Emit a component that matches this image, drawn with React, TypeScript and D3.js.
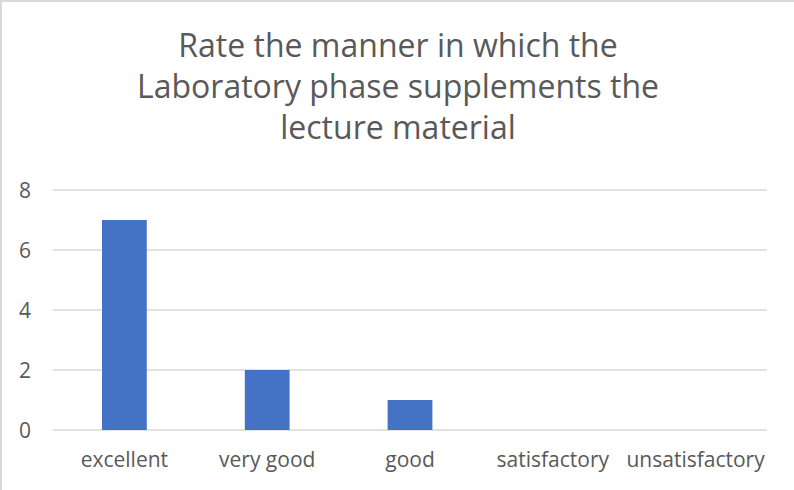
import React from 'react';
import * as d3 from 'd3';

const categories = ['excellent', 'very good', 'good', 'satisfactory', 'unsatisfactory'];
const counts = [7, 2, 1, 0, 0];
const yTicks = [0, 2, 4, 6, 8];
const titleLines = [
	'Rate the manner in which the',
	'Laboratory phase supplements the',
	'lecture material',
];

const App = () => {
	const svgWidth = 794;
	const svgHeight = 490;
	const plot = { left: 53, right: 767, top: 190, bottom: 430 };
	const font = "'Open Sans', 'Noto Sans', sans-serif";
	const textColor = '#595959';

	const xScale = d3
		.scaleBand()
		.domain(categories)
		.range([plot.left, plot.right])
		.paddingInner(0)
		.paddingOuter(0);
	const yScale = d3.scaleLinear().domain([0, 8]).range([plot.bottom, plot.top]);

	// excel gap width ~219%
	const barWidth = xScale.bandwidth() / 3.19;

	return (
		<svg
			width={svgWidth}
			height={svgHeight}
			style={{ position: 'absolute', left: 0, top: 0 }}
			fontFamily={font}
		>
			<rect x={0} y={0} width={svgWidth} height={svgHeight} fill='white' />
			{/* chart border, only top and left show */}
			<rect x={1} y={1} width={svgWidth + 10} height={svgHeight + 10} fill='none' stroke='#d9d9d9' strokeWidth={2} />

			{/* title */}
			<text textAnchor='middle' fill={textColor} fontSize={32}>
				{titleLines.map((line, i) => (
					<tspan key={line} x={svgWidth / 2 + 1} y={57 + i * 41}>
						{line}
					</tspan>
				))}
			</text>

			{/* gridlines */}
			{yTicks.map((v) => (
				<line
					key={'grid' + v}
					x1={plot.left}
					x2={plot.right}
					y1={yScale(v)}
					y2={yScale(v)}
					stroke='#d9d9d9'
					strokeWidth={1.5}
				/>
			))}

			{/* y labels */}
			{yTicks.map((v) => (
				<text
					key={'ylab' + v}
					x={31}
					y={yScale(v) + 7.5}
					textAnchor='end'
					fill={textColor}
					fontSize={21}
				>
					{v}
				</text>
			))}

			{/* bars */}
			{categories.map((c, i) => (
				<rect
					key={c}
					x={xScale(c)! + xScale.bandwidth() / 2 - barWidth / 2}
					y={yScale(counts[i])}
					width={barWidth}
					height={yScale(0) - yScale(counts[i])}
					fill='#4472c4'
				/>
			))}

			{/* x labels */}
			{categories.map((c) => (
				<text
					key={'xlab' + c}
					x={xScale(c)! + xScale.bandwidth() / 2}
					y={467}
					textAnchor='middle'
					fill={textColor}
					fontSize={21}
				>
					{c}
				</text>
			))}
		</svg>
	);
};

export default App;
